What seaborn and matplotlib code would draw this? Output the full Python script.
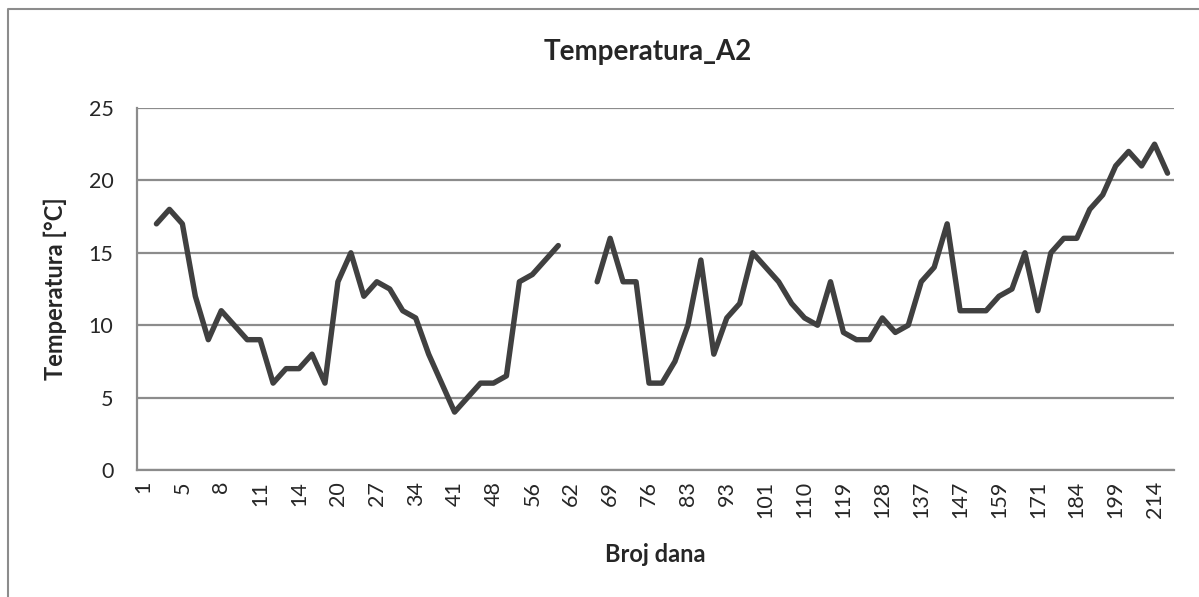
import numpy as np
import pandas as pd
import matplotlib
matplotlib.use("Agg")
import matplotlib.pyplot as plt
from matplotlib.lines import Line2D
import seaborn as sns

# day numbers on the category axis (only every 3rd one is printed)
days = [1, 3, 4, 5, 6, 7, 8, 9, 10, 11, 12, 13, 14, 16, 18, 20, 22, 24, 27, 29,
        31, 34, 36, 39, 41, 43, 46, 48, 51, 54, 56, 58, 60, 62, 64, 66, 69, 71, 74, 76,
        78, 81, 83, 86, 90, 93, 96, 99, 101, 104, 107, 110, 113, 116, 119, 122, 125, 128, 131, 134,
        137, 140, 143, 147, 151, 155, 159, 163, 167, 171, 175, 179, 184, 189, 194, 199, 204, 209, 214, 219]

# temperature readings, None = no measurement
temps = [None, 17, 18, 17, 12, 9, 11, 10, 9, 9,
         6, 7, 7, 8, 6, 13, 15, 12, 13, 12.5,
         11, 10.5, 8, 6, 4, 5, 6, 6, 6.5, 13,
         13.5, 14.5, 15.5, None, None, 13, 16, 13, 13, 6,
         6, 7.5, 10, 14.5, 8, 10.5, 11.5, 15, 14, 13,
         11.5, 10.5, 10, 13, 9.5, 9, 9, 10.5, 9.5, 10,
         13, 14, 17, 11, 11, 11, 12, 12.5, 15, 11,
         15, 16, 16, 18, 19, 21, 22, 21, 22.5, 20.5]

y_ticks = [0, 5, 10, 15, 20, 25]

df = pd.DataFrame({"pos": range(len(days)), "day": days, "temp": temps})
df["temp"] = df["temp"].astype(float)
df["segment"] = df["temp"].isna().cumsum()

sns.set_style("white")
plt.rcParams["font.family"] = ["Lato", "DejaVu Sans"]

W, H = 1199, 597
fig = plt.figure(figsize=(W / 100, H / 100), dpi=100)
ax = fig.add_axes([137 / W, 127 / H, (1174 - 137) / W, (470 - 108) / H])

grey = "#8c8c8c"
sns.lineplot(data=df.dropna(), x="pos", y="temp", units="segment", estimator=None,
             color="#404040", linewidth=3.9, ax=ax)
for line in ax.get_lines():
    line.set_solid_capstyle("round")
    line.set_solid_joinstyle("round")

ax.set_xlim(-0.5, len(days) - 0.5)
ax.set_ylim(0, 25)
ax.set_yticks(y_ticks)
ax.yaxis.grid(True, color=grey, linewidth=1.6)
ax.set_axisbelow(True)

major = list(range(0, len(days), 3))
ax.set_xticks(major)
ax.set_xticklabels([str(days[i]) for i in major], rotation=90)
ax.set_xticks(np.arange(-0.5, len(days), 1), minor=True)
ax.tick_params(axis="x", which="major", length=0, pad=8, labelsize=15.5)
ax.tick_params(axis="x", which="minor", length=6, width=1.4, color=grey, direction="out")
ax.tick_params(axis="y", length=8, width=1.4, color=grey, direction="out", pad=9, labelsize=15.5)

for s in ["top", "right"]:
    ax.spines[s].set_visible(False)
for s in ["left", "bottom"]:
    ax.spines[s].set_color(grey)
    ax.spines[s].set_linewidth(1.6)

ax.set_xlabel("")
ax.set_ylabel("")
fig.text(648 / W, 1 - 52 / H, "Temperatura_A2", ha="center", va="center",
         fontsize=20, fontweight="bold")
fig.text(55 / W, 1 - 289 / H, "Temperatura [°C]", ha="center", va="center",
         rotation=90, fontsize=17, fontweight="bold")
fig.text(655 / W, 1 - 555 / H, "Broj dana", ha="center", va="center",
         fontsize=17, fontweight="bold")

# chart area border (left and top edges visible)
fig.add_artist(Line2D([8 / W, 8 / W, 1], [0, 1 - 9 / H, 1 - 9 / H],
                      transform=fig.transFigure, color=grey, linewidth=1.5))

fig.savefig("out.png", dpi=100)
